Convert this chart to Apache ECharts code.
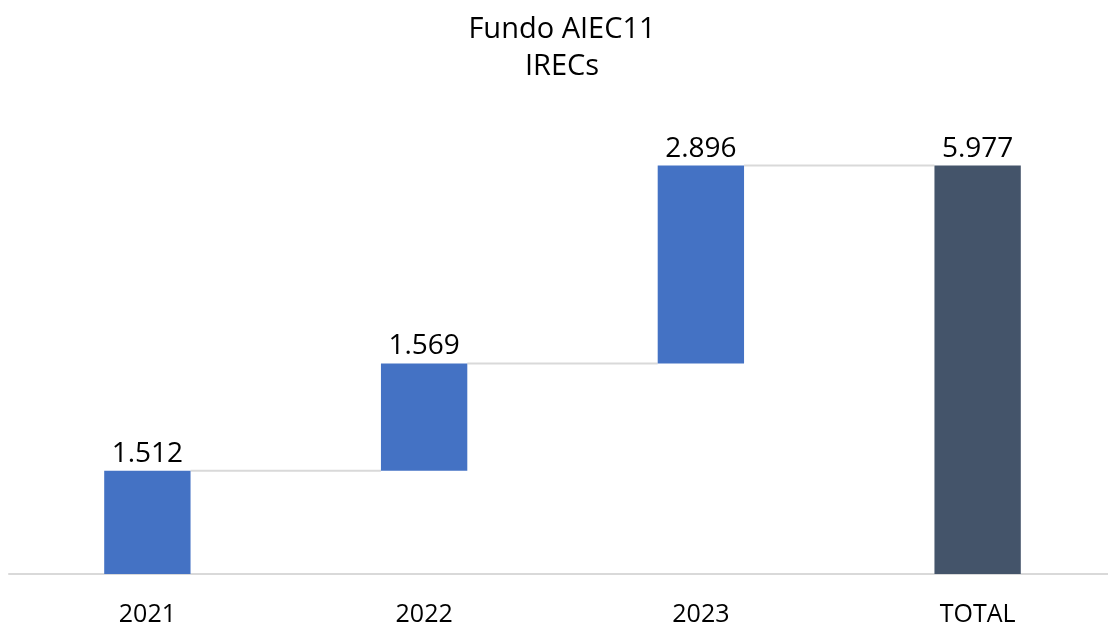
<!DOCTYPE html>
<html>
<head>
<meta charset="utf-8">
<script src="https://cdn.jsdelivr.net/npm/echarts@6/dist/echarts.min.js"></script>
<style>html,body{margin:0;padding:0;background:#fff;overflow:hidden}#c{width:1124px;height:628px}</style>
</head>
<body>
<div id="c"></div>
<script>
const categories = ['2021', '2022', '2023', 'TOTAL'];
const increments = [1.512, 1.569, 2.896];
const totalValue = 5.977;

// cumulative bases for the waterfall
const bases = [];
let run = 0;
increments.forEach(v => { bases.push(run); run += v; });
bases.push(0);
const values = increments.concat([totalValue]);
const tops = bases.map((b, i) => b + values[i]);

const BLUE = '#4472C4', SLATE = '#44546A', GRID = '#D9D9D9';
const FONT = 'Open Sans';
const BAR_RATIO = 0.312;

const chart = echarts.init(document.getElementById('c'));
chart.setOption({
  animation: false,
  textStyle: { fontFamily: FONT },
  title: {
    text: 'Fundo AIEC11\nIRECs',
    left: 'center', top: 6,
    textStyle: { fontFamily: FONT, fontSize: 29, fontWeight: 'normal', color: '#000', lineHeight: 37 }
  },
  grid: { left: 9, width: 1107, top: 164, height: 410, containLabel: false },
  xAxis: {
    type: 'category', data: categories,
    axisLine: { lineStyle: { color: GRID, width: 2 } },
    axisTick: { show: false },
    axisLabel: { fontFamily: FONT, fontSize: 25, color: '#000', margin: 28 }
  },
  yAxis: { type: 'value', min: 0, max: 6, show: false, splitLine: { show: false } },
  series: [
    {
      type: 'bar', stack: 'wf', data: bases, barWidth: (BAR_RATIO * 100) + '%',
      itemStyle: { color: 'transparent' }, silent: true
    },
    {
      type: 'bar', stack: 'wf', barWidth: (BAR_RATIO * 100) + '%',
      data: values.map((v, i) => ({ value: v, itemStyle: { color: i === values.length - 1 ? SLATE : BLUE } })),
      label: {
        show: true, position: 'top', distance: 3,
        fontFamily: FONT, fontSize: 28, color: '#000',
        formatter: p => values[p.dataIndex].toFixed(3)
      }
    },
    {
      type: 'custom', z: 1,
      data: tops.slice(0, tops.length - 1).map((t, i) => [i, t]),
      renderItem: function (params, api) {
        const i = api.value(0), y = api.value(1);
        const band = api.size([1, 0])[0];
        const half = band * BAR_RATIO / 2;
        const p1 = api.coord([i, y]);
        const p2 = api.coord([i + 1, y]);
        return {
          type: 'line',
          shape: { x1: p1[0] + half, y1: p1[1], x2: p2[0] - half, y2: p2[1] },
          style: { stroke: GRID, lineWidth: 2 }
        };
      }
    }
  ]
});
</script>
</body>
</html>
